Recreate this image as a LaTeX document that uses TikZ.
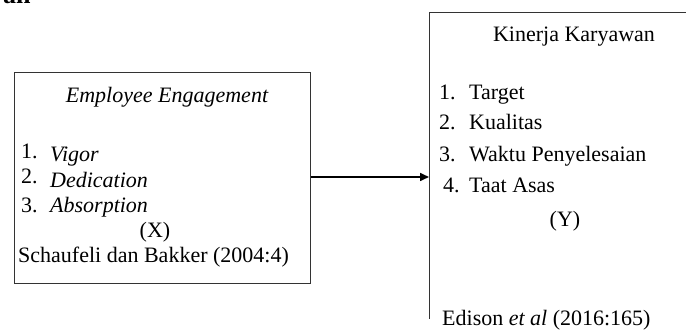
\documentclass[tikz,border=0pt]{standalone}
\usepackage{fontspec}
\setmainfont{Liberation Serif}
\usetikzlibrary{arrows.meta}
\begin{document}
\begin{tikzpicture}[x=1pt,y=-1pt,
  txt/.style={inner sep=0pt,font=\fontsize{22}{26}\selectfont},
  boxline/.style={draw=black!80,line width=1pt},
  conn/.style={draw=black,line width=1.6pt,-{Triangle[length=9pt,width=8pt]}}]
\useasboundingbox (0,0) rectangle (686,331);
\clip (0,0) rectangle (686,331);
% cropped heading fragment
\node[txt,anchor=base west,font=\fontsize{26}{30}\selectfont\bfseries] (head) at (3,4) {an};
% left box
\node[boxline,minimum width=296pt,minimum height=211pt,inner sep=0pt,anchor=north west] (lbox) at (14,72) {};
\node[txt,anchor=base] (ltitle) at (167,103) {\itshape Employee Engagement};
\node[txt,anchor=base west] (n1) at (21,159) {1.};
\node[txt,anchor=base west] (i1) at (50,162) {\itshape Vigor};
\node[txt,anchor=base west] (n2) at (21,184) {2.};
\node[txt,anchor=base west] (i2) at (50,188) {\itshape Dedication};
\node[txt,anchor=base west] (n3) at (21,213) {3.};
\node[txt,anchor=base west] (i3) at (50,213) {\itshape Absorption};
\node[txt,anchor=base] (xlab) at (155,238) {(X)};
\node[txt,anchor=base west] (lsrc) at (18,263) {Schaufeli dan Bakker (2004:4)};
% right box (cut off at right and bottom)
\coordinate (rtl) at (429,13);
\coordinate (rtr) at (686,13);
\coordinate (rbl) at (429,319);
\draw[boxline] (rtr) -- (rtl) -- (rbl);
\node[txt,anchor=base] (rtitle) at (574,42) {Kinerja Karyawan};
\node[txt,anchor=base west] (m1) at (439,100) {1.};
\node[txt,anchor=base west] (j1) at (469,100) {Target};
\node[txt,anchor=base west] (m2) at (439,130) {2.};
\node[txt,anchor=base west] (j2) at (469,130) {Kualitas};
\node[txt,anchor=base west] (m3) at (439,162) {3.};
\node[txt,anchor=base west] (j3) at (469,162) {Waktu Penyelesaian};
\node[txt,anchor=base west] (m4) at (443,193) {4.};
\node[txt,anchor=base west] (j4) at (469,193) {Taat Asas};
\node[txt,anchor=base] (ylab) at (565,227) {(Y)};
\node[txt,anchor=base west] (rsrc) at (442,326) {Edison \textit{et al} (2016:165)};
% connector
\coordinate (rmid) at (429,177);
\draw[conn] (lbox.east |- rmid) -- (rmid);
\end{tikzpicture}
\end{document}
